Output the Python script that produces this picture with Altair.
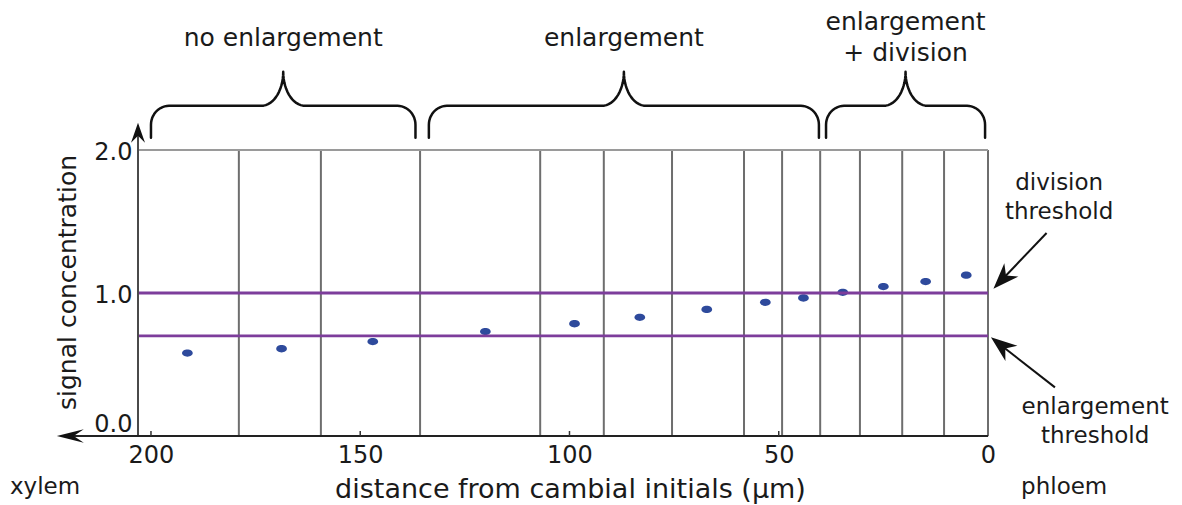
import altair as alt
import pandas as pd
import numpy as np

# ---------------- data ----------------
distance = [191.3, 168.8, 147.0, 120.1, 98.8, 83.2, 67.2, 53.2, 44.1, 34.7, 25.0, 14.9, 5.2]
signal = [0.58, 0.61, 0.66, 0.73, 0.785, 0.83, 0.885, 0.935, 0.965, 1.005, 1.045, 1.08, 1.125]
cell_walls = [179.0, 159.4, 135.7, 107.0, 91.8, 75.5, 58.3, 49.2, 40.1, 30.6, 20.5, 10.5, 0.0]
thresholds = [1.0, 0.7]
x_ticks = [200, 150, 100, 50, 0]
y_ticks = [0.0, 1.0, 2.0]
brace_labels = ["no enlargement", "enlargement", "enlargement\n+ division"]
brace_start = [200.0, 133.6, 38.7]
brace_end = [136.8, 40.4, 0.7]
side_labels = ["xylem", "phloem"]
threshold_labels = ["division\nthreshold", "enlargement\nthreshold"]

# ---------------- layout ----------------
W, H = 850, 286
X_DOM = [203.1, 0.0]
Y_DOM = [0.0, 2.0]
ppx = W / (X_DOM[0] - X_DOM[1])
ppy = H / (Y_DOM[1] - Y_DOM[0])
FONT = "DejaVu Sans"
TXT = "#1a1a1a"

xs = alt.Scale(domain=X_DOM, nice=False, zero=False)
ys = alt.Scale(domain=Y_DOM, nice=False, zero=False)

x_axis = alt.Axis(
    values=x_ticks, format="d", ticks=False, tickSize=0, domain=False, grid=False,
    labelFont=FONT, labelFontSize=24, labelColor=TXT, labelPadding=19,
    labelBaseline="middle", labelFlush=False,
    title="distance from cambial initials (µm)", titleFont=FONT, titleFontSize=27,
    titleFontWeight="normal", titleColor=TXT, titleX=432, titleY=53,
    titleBaseline="middle", titleAlign="center")
y_axis = alt.Axis(
    values=y_ticks, format=".1f", ticks=False, tickSize=0, domain=False, grid=False,
    labelFont=FONT, labelFontSize=24, labelColor=TXT, labelPadding=6,
    labelBaseline="middle", labelFlush=False,
    labelOffset={"condition": {"test": "datum.value == 0", "value": -12}, "value": 2},
    title="signal concentration", titleFont=FONT, titleFontSize=25,
    titleFontWeight="normal", titleColor=TXT, titleX=-71, titleY=132,
    titleBaseline="middle", titleAlign="center", titleAngle=-90)


def X(field, **kw):
    return alt.X(field, type="quantitative", scale=xs, axis=x_axis, **kw)


def Y(field, **kw):
    return alt.Y(field, type="quantitative", scale=ys, axis=y_axis, **kw)


# ---------------- points ----------------
pts_df = pd.DataFrame({"d": distance, "s": signal})
ellipse = "M-1,0 A1,0.68 0 1,1 1,0 A1,0.68 0 1,1 -1,0 Z"
points = alt.Chart(pts_df).mark_point(
    shape=ellipse, size=115, filled=True, color="#2e4a9c", opacity=1
).encode(x=X("d"), y=Y("s"))

# ---------------- cell walls, thresholds, frame ----------------
walls = alt.Chart(pd.DataFrame({"w": cell_walls})).mark_rule(
    color="#6e6e6e", strokeWidth=2).encode(x=X("w"))

thr = alt.Chart(pd.DataFrame({"t": thresholds})).mark_rule(
    color="#7d3d9b", strokeWidth=2.8).encode(y=Y("t"))

top_frame = alt.Chart(pd.DataFrame({"t": [Y_DOM[1]]})).mark_rule(
    color="#9a9a9a", strokeWidth=2).encode(y=Y("t"))

Y_ARROW = 2.19
X_ARROW = 222.5
yaxis_line = alt.Chart(pd.DataFrame({"x": [X_DOM[0]], "y0": [0.0], "y1": [Y_ARROW - 0.05]})).mark_rule(
    color="#4a4a4a", strokeWidth=2).encode(x=X("x"), y=Y("y0"), y2="y1:Q")

xaxis_line = alt.Chart(pd.DataFrame({"x0": [X_ARROW - 3], "x1": [0.0], "y": [0.0]})).mark_rule(
    color="#222222", strokeWidth=2).encode(x=X("x0"), x2="x1:Q", y=Y("y"))

tick_df = pd.DataFrame({"v": [v for v in x_ticks if v != 0]})
xticks = alt.Chart(tick_df).mark_rule(color="#333333", strokeWidth=1.5).encode(
    x=X("v"), y=alt.value(H), y2=alt.value(H - 5))

# axis arrowheads (path tip at origin, pointing up; angle clockwise)
head_x = "M0,0 L0.5,2 L0,1.25 L-0.5,2 Z"
head_y = "M0,0 L0.7,2 L0,1.3 L-0.7,2 Z"
xhead = alt.Chart(pd.DataFrame({"x": [X_ARROW], "y": [0.0]})).mark_point(
    shape=head_x, size=729, filled=True, color="#111111", opacity=1, angle=270
).encode(x=X("x"), y=Y("y"))
yhead = alt.Chart(pd.DataFrame({"x": [X_DOM[0]], "y": [Y_ARROW]})).mark_point(
    shape=head_y, size=400, filled=True, color="#111111", opacity=1, angle=0
).encode(x=X("x"), y=Y("y"))

# ---------------- braces ----------------
BRACE_Y = 2.085
rows = []
for bid, (x0, x1) in enumerate(zip(brace_start, brace_end)):
    span = (x0 - x1) * ppx
    mid = span / 2.0
    left = [(0.0, 0.0), (0.0, 13.0)]
    for t in np.linspace(0, np.pi / 2, 14)[1:]:
        left.append((18 - 18 * np.cos(t), 13 + 19 * np.sin(t)))
    for t in np.linspace(0, np.pi / 2, 16):
        left.append((mid - 22 + 22 * np.sin(t), 66 - 34 * np.cos(t)))
    right = [(span - u, v) for (u, v) in reversed(left[:-1])]
    for i, (u, v) in enumerate(left + right):
        rows.append({"b": bid, "i": i, "x": x0 - u / ppx, "y": BRACE_Y + v / ppy})
braces = alt.Chart(pd.DataFrame(rows)).mark_line(
    color="#111111", strokeWidth=2.5, strokeCap="round", strokeJoin="round"
).encode(x=X("x"), y=Y("y"), detail="b:N", order="i:Q")

# (y = centre of the first line of each label)
blab_df = pd.DataFrame({
    "t": brace_labels,
    "x": [(a + b) / 2 for a, b in zip(brace_start, brace_end)],
    "y": [2.783, 2.783, 2.895],
})
blabels = alt.Chart(blab_df).mark_text(
    font=FONT, fontSize=25, color=TXT, align="center", baseline="middle",
    lineBreak="\n", lineHeight=31
).encode(x=X("x"), y=Y("y"), text="t:N")

# ---------------- threshold annotations ----------------
tl_df = pd.DataFrame({"t": threshold_labels, "x": [-17.0, -25.6], "y": [1.769, 0.203]})
tlabels = alt.Chart(tl_df).mark_text(
    font=FONT, fontSize=23, color=TXT, align="center", baseline="middle",
    lineBreak="\n", lineHeight=29
).encode(x=X("x"), y=Y("y"), text="t:N")

arrows = [((-14.0, 1.42), (-1.3, 1.03)), ((-16.0, 0.34), (-0.7, 0.69))]
shaft_rows, head_rows = [], []
for k, ((tx, ty), (hx, hy)) in enumerate(arrows):
    dxp = -(hx - tx) * ppx
    dyp = -(hy - ty) * ppy
    L = np.hypot(dxp, dyp)
    ux, uy = dxp / L, dyp / L
    ex = hx + (12 * ux) / ppx
    ey = hy + (12 * uy) / ppy
    shaft_rows.append({"k": k, "x0": tx, "y0": ty, "x1": ex, "y1": ey})
    ang = (np.degrees(np.arctan2(ux, -uy)) + 360) % 360
    head_rows.append({"k": k, "x": hx, "y": hy, "a": ang})
shafts = alt.Chart(pd.DataFrame(shaft_rows)).mark_rule(
    color="#111111", strokeWidth=2).encode(x=X("x0"), x2="x1:Q", y=Y("y0"), y2="y1:Q")
head_a = "M0,0 L0.75,2 L0,1.4 L-0.75,2 Z"
heads = alt.Chart(pd.DataFrame(head_rows)).mark_point(
    shape=head_a, size=676, filled=True, color="#111111", opacity=1
).encode(x=X("x"), y=Y("y"), angle=alt.Angle("a:Q", scale=None))

# ---------------- xylem / phloem ----------------
side_df = pd.DataFrame({"t": side_labels, "x": [225.3, -18.2], "y": [-0.355, -0.355]})
sides = alt.Chart(side_df).mark_text(
    font=FONT, fontSize=23, color=TXT, align="center", baseline="middle"
).encode(x=X("x"), y=Y("y"), text="t:N")

chart = alt.layer(
    points, walls, top_frame, thr, yaxis_line, xaxis_line, xticks, xhead, yhead,
    braces, blabels, tlabels, shafts, heads, sides
).properties(
    width=W, height=H,
    padding={"left": 130, "top": 142, "right": 186, "bottom": 70},
    autosize=alt.AutoSizeParams(type="none"),
).configure_view(stroke=None).configure(font=FONT, background="white")

chart.save("out.html", embed_options={"renderer": "svg", "actions": False})
